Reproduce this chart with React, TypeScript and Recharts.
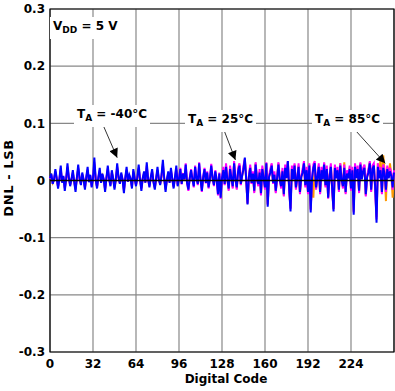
import { LineChart, Line, CartesianGrid, XAxis, YAxis, ReferenceLine, ReferenceArea, Label } from "recharts";

const xTicks = [0, 32, 64, 96, 128, 160, 192, 224];
const yTicks = [-0.3, -0.2, -0.1, 0, 0.1, 0.2, 0.3];

// DNL (LSB) per code, TA = -40°C
const dnlM40 = [
  0.004, 0.012, -0.006, 0.002, 0.02, 0.004, -0.014, 0.003, 0.026, -0.004, 0.008, -0.018, 0.002, 0.03, 0.006, -0.01,
  0.003, 0.018, -0.002, -0.02, 0.005, 0.028, 0.004, -0.008, 0.014, 0.002, -0.016, 0.006, 0.024, -0.003, 0.01, -0.012,
  0.004, 0.04, 0.002, -0.014, 0.006, 0.022, -0.004, 0.012, 0.002, -0.02, 0.005, 0.026, 0.003, -0.01, 0.018, 0.004,
  -0.016, 0.002, 0.03, 0.006, -0.006, 0.014, 0.002, -0.022, 0.004, 0.024, -0.002, 0.01, 0.003, -0.014, 0.02, 0.004,
  -0.01, 0.006, 0.028, 0.002, -0.018, 0.004, 0.016, -0.004, 0.032, 0.003, -0.012, 0.006, 0.02, -0.003, -0.016, 0.004,
  0.024, 0.002, -0.008, 0.01, 0.036, 0.004, -0.02, 0.002, 0.016, -0.004, 0.022, 0.003, -0.014, 0.006, 0.026, -0.01,
  0.003, 0.02, -0.006, 0.012, 0.002, 0.028, -0.004, -0.016, 0.004, 0.018, 0.002, -0.01, 0.024, 0.004, -0.006, 0.03,
  0.002, -0.018, 0.006, 0.02, -0.004, 0.014, -0.012, 0.003, 0.026, 0.004, -0.008, 0.016, 0.002, -0.024, 0.012, -0.03,
  0.004, 0.018, -0.006, 0.024, 0.002, -0.014, 0.02, 0.004, -0.01, 0.03, 0.002, -0.012, 0.016, 0.026, -0.006, 0.008,
  0.02, 0.04, 0.002, -0.042, 0.006, 0.022, -0.004, 0.012, -0.018, 0.028, 0.003, -0.006, 0.014, -0.022, 0.02, 0.004,
  -0.012, 0.03, -0.046, 0.006, 0.014, 0.026, -0.004, 0.01, -0.018, 0.004, 0.028, 0.002, -0.01, 0.016, -0.024, 0.022,
  0.004, 0.034, -0.014, -0.054, 0.02, 0.002, 0.026, -0.012, 0.004, 0.024, -0.02, 0.006, 0.014, 0.03, -0.008, 0.018,
  -0.02, 0.026, -0.056, 0.004, 0.022, 0.03, -0.012, 0.006, 0.024, -0.02, 0.018, 0.002, 0.028, -0.008, 0.02, -0.03,
  0.006, 0.024, -0.014, -0.054, 0.022, 0.004, 0.018, -0.016, 0.026, 0.002, -0.01, 0.022, -0.02, 0.012, 0.004, 0.02,
  -0.014, 0.018, -0.06, 0.024, 0.004, 0.02, -0.018, 0.028, 0.002, 0.016, 0.022, -0.024, 0.006, 0.014, 0.03, -0.016,
  0.02, 0.026, -0.012, -0.074, 0.024, 0.004, 0.018, -0.02, 0.022, 0.012, -0.016, 0.02, 0.004, 0.016, 0.008, -0.012,
  0.014,
];

// TA = 25°C
const dnl25 = [
  0.003, 0.01, -0.005, 0.002, 0.016, 0.003, -0.011, 0.002, 0.021, -0.003, 0.006, -0.014, 0.002, 0.024, 0.005, -0.008,
  0.002, 0.014, -0.002, -0.016, 0.004, 0.022, 0.003, -0.006, 0.011, 0.002, -0.013, 0.005, 0.019, -0.002, 0.008, -0.01,
  0.003, 0.032, 0.002, -0.011, 0.005, 0.018, -0.003, 0.01, 0.002, -0.016, 0.004, 0.021, 0.002, -0.008, 0.014, 0.003,
  -0.013, 0.002, 0.024, 0.005, -0.005, 0.011, 0.002, -0.018, 0.003, 0.019, -0.002, 0.008, 0.002, -0.011, 0.016, 0.003,
  -0.008, 0.005, 0.022, 0.002, -0.014, 0.003, 0.013, -0.003, 0.026, 0.002, -0.01, 0.005, 0.016, -0.002, -0.013, 0.003,
  0.019, 0.002, -0.006, 0.008, 0.029, 0.003, -0.016, 0.002, 0.013, -0.003, 0.018, 0.002, -0.011, 0.005, 0.021, -0.008,
  0.004, 0.022, -0.007, 0.013, 0.003, 0.03, -0.005, -0.018, 0.005, 0.02, 0.003, -0.012, 0.026, 0.005, -0.008, 0.032,
  0.003, -0.02, 0.007, 0.022, -0.005, 0.016, -0.014, 0.004, 0.029, 0.005, -0.01, 0.018, 0.003, -0.026, 0.014, -0.032,
  0.005, 0.024, -0.008, 0.03, 0.003, -0.018, 0.026, 0.005, -0.014, 0.034, 0.003, -0.016, 0.022, 0.03, -0.008, 0.01,
  0.026, 0.038, 0.003, -0.04, 0.008, 0.028, -0.006, 0.016, -0.022, 0.032, 0.004, -0.01, 0.02, -0.026, 0.026, 0.005,
  -0.016, 0.032, -0.042, 0.008, 0.02, 0.03, -0.006, 0.016, -0.022, 0.005, 0.032, 0.003, -0.014, 0.022, -0.028, 0.028,
  0.005, 0.034, -0.018, -0.05, 0.026, 0.003, 0.03, -0.016, 0.005, 0.03, -0.024, 0.008, 0.02, 0.034, -0.012, 0.024,
  -0.024, 0.03, -0.052, 0.005, 0.028, 0.034, -0.016, 0.008, 0.03, -0.024, 0.024, 0.003, 0.032, -0.012, 0.026, -0.032,
  0.008, 0.03, -0.018, -0.05, 0.028, 0.005, 0.024, -0.02, 0.03, 0.003, -0.014, 0.028, -0.024, 0.018, 0.005, 0.026,
  -0.018, 0.024, -0.056, 0.03, 0.005, 0.026, -0.022, 0.032, 0.003, 0.022, 0.028, -0.028, 0.008, 0.02, 0.034, -0.02,
  0.026, 0.03, -0.016, -0.068, 0.03, 0.005, 0.024, -0.024, 0.028, 0.016, -0.02, 0.026, 0.005, 0.022, 0.012, -0.016,
  0.018,
];

// TA = 85°C
const dnl85 = [
  0.003, 0.008, -0.004, 0.001, 0.014, 0.003, -0.01, 0.002, 0.018, -0.003, 0.006, -0.012, 0.001, 0.021, 0.004, -0.007,
  0.002, 0.012, -0.001, -0.014, 0.004, 0.02, 0.003, -0.006, 0.01, 0.001, -0.011, 0.004, 0.017, -0.002, 0.007, -0.008,
  0.003, 0.028, 0.001, -0.01, 0.004, 0.015, -0.003, 0.008, 0.001, -0.014, 0.004, 0.018, 0.002, -0.007, 0.013, 0.003,
  -0.011, 0.001, 0.021, 0.004, -0.004, 0.01, 0.001, -0.015, 0.003, 0.017, -0.001, 0.007, 0.002, -0.01, 0.014, 0.003,
  -0.007, 0.004, 0.02, 0.001, -0.013, 0.003, 0.011, -0.003, 0.022, 0.002, -0.008, 0.004, 0.014, -0.002, -0.011, 0.003,
  0.017, 0.001, -0.006, 0.007, 0.025, 0.003, -0.014, 0.001, 0.011, -0.003, 0.015, 0.002, -0.01, 0.004, 0.018, -0.007,
  0.002, 0.014, -0.004, 0.008, 0.001, 0.02, -0.003, -0.011, 0.003, 0.013, 0.001, -0.007, 0.017, 0.003, -0.004, 0.021,
  0.001, -0.013, 0.004, 0.014, -0.003, 0.01, -0.008, 0.002, 0.018, 0.003, -0.006, 0.011, 0.001, -0.017, 0.008, -0.021,
  0.004, 0.02, -0.007, 0.026, 0.002, -0.016, 0.022, 0.004, -0.012, 0.03, 0.002, -0.014, 0.018, 0.028, -0.007, 0.009,
  0.022, 0.036, 0.002, -0.04, 0.007, 0.024, -0.005, 0.014, -0.02, 0.03, 0.003, -0.008, 0.016, -0.024, 0.022, 0.004,
  -0.014, 0.03, -0.042, 0.007, 0.016, 0.028, -0.005, 0.012, -0.02, 0.004, 0.03, 0.002, -0.012, 0.018, -0.026, 0.024,
  0.004, 0.032, -0.016, -0.048, 0.022, 0.002, 0.028, -0.014, 0.004, 0.026, -0.022, 0.007, 0.016, 0.03, -0.01, 0.02,
  -0.022, 0.028, -0.05, 0.004, -0.03, 0.03, -0.014, 0.007, 0.026, -0.022, 0.02, 0.002, 0.03, -0.01, 0.022, -0.03,
  0.007, 0.026, -0.016, -0.05, 0.024, 0.004, 0.02, -0.018, 0.03, 0.002, -0.012, 0.032, -0.022, 0.014, 0.004, 0.022,
  -0.016, 0.02, -0.054, 0.026, 0.004, 0.022, -0.02, 0.03, 0.002, 0.018, 0.026, -0.026, 0.007, 0.016, 0.032, -0.018,
  0.022, 0.028, -0.014, -0.064, 0.03, 0.006, 0.04, -0.022, 0.044, 0.016, -0.036, 0.024, 0.005, 0.03, 0.01, -0.03,
  0.016,
];

const codes = dnlM40.map((_, i) => i);
const data = codes.map((c, i) => ({ code: c, m40: dnlM40[i], t25: dnl25[i], t85: dnl85[i] }));

const FONT = "'DejaVu Sans', sans-serif";

const fmtY = (v: number) => (Math.abs(v) < 1e-9 ? "0" : v.toFixed(1));

function Note({ left, top, main, sub, rest }: { left: number; top: number; main: string; sub: string; rest: string }) {
  return (
    <div
      style={{
        position: "absolute", left, top, background: "#fff", padding: "1px 3px",
        fontFamily: FONT, fontWeight: "bold", fontSize: 12, lineHeight: "16px", whiteSpace: "nowrap", color: "#000",
      }}
    >
      {main}
      <span style={{ fontSize: 9, verticalAlign: -3 }}>{sub}</span>
      {rest}
    </div>
  );
}

export default function App() {
  return (
    <div style={{ position: "absolute", left: 0, top: 0, width: 395, height: 391 }}>
      <svg width={0} height={0} style={{ position: "absolute" }}>
        <defs>
          <marker id="arr" viewBox="0 0 10 10" refX="10" refY="5" markerWidth="11" markerHeight="9" markerUnits="userSpaceOnUse" orient="auto">
            <path d="M0,0 L10,5 L0,10 z" fill="#000" />
          </marker>
        </defs>
      </svg>
      <LineChart width={395} height={391} data={data} margin={{ top: 9, right: 1, left: 0, bottom: 0 }}>
        <CartesianGrid stroke="#888" strokeWidth={1.2} />
        <XAxis
          dataKey="code" type="number" domain={[0, 256]} ticks={xTicks} interval={0}
          axisLine={false} tickLine={false} tickSize={5} tickMargin={2} height={39}
          tick={{ fontFamily: FONT, fontWeight: "bold", fontSize: 12, fill: "#000" }}
        >
          <Label
            content={() => (
              <text x={226} y={383} textAnchor="middle" fontFamily={FONT} fontWeight="bold" fontSize={12} fill="#000">
                Digital Code
              </text>
            )}
          />
        </XAxis>
        <YAxis
          type="number" domain={[-0.3, 0.3]} ticks={yTicks} interval={0} tickFormatter={fmtY}
          axisLine={false} tickLine={false} tickSize={3} tickMargin={2} width={50}
          tick={{ fontFamily: FONT, fontWeight: "bold", fontSize: 12, fill: "#000" }}
        >
          <Label
            content={() => (
              <text x={13} y={178} transform="rotate(-90 13 178)" textAnchor="middle" fontFamily={FONT} fontWeight="bold" fontSize={13} letterSpacing={0.6} fill="#000">
                DNL - LSB
              </text>
            )}
          />
        </YAxis>
        <Line type="linear" dataKey="t85" stroke="#FF9900" strokeWidth={2} dot={false} isAnimationActive={false} />
        <Line type="linear" dataKey="t25" stroke="#FF00FF" strokeWidth={2} dot={false} isAnimationActive={false} />
        <Line type="linear" dataKey="m40" stroke="#0000FF" strokeWidth={2} dot={false} isAnimationActive={false} />
        <ReferenceLine y={0} stroke="#000" strokeWidth={1.5} />
        <ReferenceArea x1={0} x2={256} y1={-0.3} y2={0.3} fill="none" stroke="#000" strokeWidth={1.2} fillOpacity={0} />
        <ReferenceLine segment={[{ x: 39.5, y: 0.097 }, { x: 50, y: 0.04 }]} stroke="#000" strokeWidth={0.8} markerEnd="url(#arr)" />
        <ReferenceLine segment={[{ x: 129, y: 0.091 }, { x: 138, y: 0.036 }]} stroke="#000" strokeWidth={0.8} markerEnd="url(#arr)" />
        <ReferenceLine segment={[{ x: 226, y: 0.091 }, { x: 249.5, y: 0.03 }]} stroke="#000" strokeWidth={0.8} markerEnd="url(#arr)" />
      </LineChart>
      <Note left={50} top={17} main="V" sub="DD" rest=" = 5 V" />
      <Note left={74} top={105} main="T" sub="A" rest=" = -40°C" />
      <Note left={185} top={110} main="T" sub="A" rest=" = 25°C" />
      <Note left={312} top={110} main="T" sub="A" rest=" = 85°C" />
    </div>
  );
}
